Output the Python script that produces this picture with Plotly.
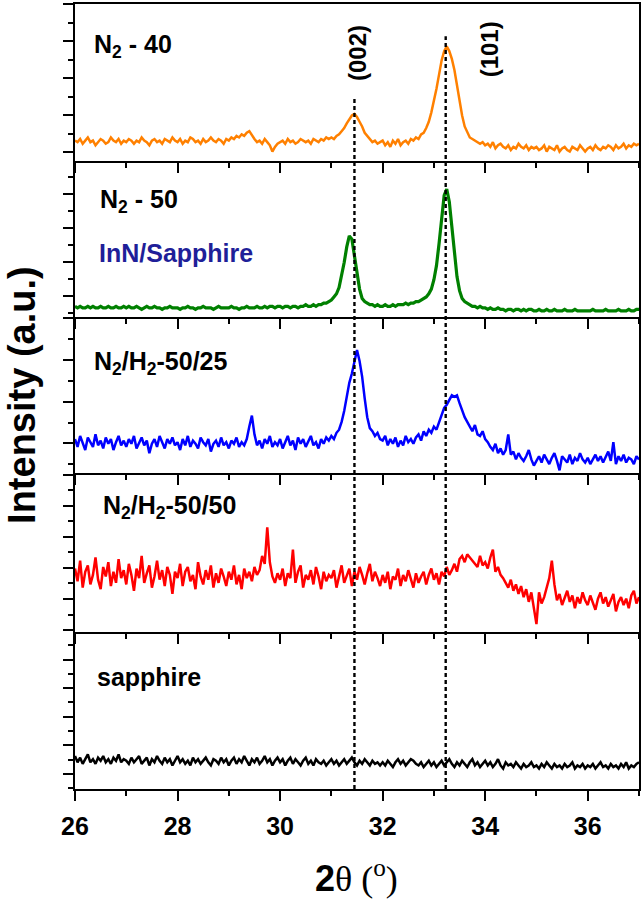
import numpy as np
import plotly.graph_objects as go

# 2-theta sampling grid (degrees)
two_theta = np.round(np.arange(26.0, 37.0001, 0.05), 2)

# Intensities (arbitrary units, each panel on its own 0-100 scale)
n2_40 = [
    13,12,14,11,13,15,12,13,10,12,14,13,11,12,15,13,12,14,11,13,
    12,14,13,11,13,12,15,13,12,10,13,14,12,13,11,14,13,12,15,13,
    12,14,11,13,12,15,14,12,13,11,14,12,13,15,13,12,14,13,11,14,
    13,15,14,16,15,17,16,18,19,16,14,12,13,11,14,12,10,6,9,11,
    12,13,11,14,12,13,11,12,14,13,12,13,11,14,13,12,14,13,15,14,
    15,14,16,17,19,21,24,27,29,30,28,25,22,18,16,14,12,13,11,12,
    13,10,12,9,13,11,14,10,12,13,11,14,13,15,14,17,18,21,25,31,
    38,46,55,64,70,73,70,65,58,48,38,29,22,18,15,14,13,12,11,12,
    10,11,9,12,8,10,11,9,8,10,7,9,8,11,9,8,10,7,9,8,
    9,7,8,10,6,9,8,7,10,6,8,9,7,6,9,8,7,10,8,6,
    8,9,7,10,8,7,9,8,10,9,7,10,8,9,11,8,10,9,11,10,
    11]

n2_50 = [
    7,6,7,6,6,7,6,7,6,6,7,6,6,7,6,6,7,6,6,7,
    6,7,6,6,7,6,5,6,7,6,6,7,6,6,5,6,6,7,6,6,
    6,5,6,6,7,6,6,5,6,6,7,6,6,6,5,6,7,6,6,6,
    6,7,6,6,5,6,6,7,6,6,6,7,6,6,7,6,7,7,6,7,
    7,6,7,7,6,7,7,6,7,7,8,7,7,8,7,8,8,9,9,10,
    11,13,15,19,26,35,45,52,50,40,28,18,12,10,9,8,8,7,8,7,
    7,8,7,7,8,7,8,8,8,9,8,9,9,10,10,11,12,13,15,18,
    24,33,47,64,78,82,74,58,40,26,17,12,10,9,8,7,7,6,7,6,
    6,5,6,5,5,6,5,5,4,5,5,4,5,5,4,5,4,5,5,4,
    4,5,4,4,5,4,4,5,4,4,4,5,4,4,4,5,4,4,4,4,
    4,4,5,4,4,4,4,5,4,4,4,4,5,4,4,4,5,4,4,5,
    5]

n2h2_50_25 = [
    22,17,24,19,15,23,20,17,25,18,21,16,23,19,22,15,20,24,18,21,
    17,22,19,24,16,20,23,18,21,13,19,22,17,24,20,16,22,19,23,18,
    20,15,22,18,24,17,21,19,16,23,20,18,22,14,19,21,17,23,18,20,
    16,21,19,23,17,20,18,22,30,37,25,18,21,16,22,19,24,17,20,18,
    22,16,20,24,18,21,15,23,19,22,17,21,24,18,20,16,22,19,23,21,
    24,22,26,28,33,40,50,58,64,72,79,72,62,48,36,29,27,24,26,22,
    21,24,18,22,19,23,17,21,18,24,20,22,19,23,25,21,27,24,28,26,
    30,28,33,38,42,44,47,50,49,50,45,40,36,33,30,27,31,25,24,27,
    22,20,17,15,19,13,16,12,15,25,12,14,9,13,10,8,11,15,9,5,
    8,11,7,12,9,6,10,13,8,2,11,9,7,12,6,10,8,13,9,7,
    10,6,9,12,8,11,7,10,14,8,20,6,11,8,12,7,10,9,6,11,
    9]

n2h2_50_50 = [
    40,32,45,28,38,42,30,36,47,33,27,41,35,44,29,38,31,46,34,39,
    30,43,36,26,40,34,48,31,37,42,28,35,45,33,39,29,41,36,24,38,
    34,43,29,38,41,32,36,27,44,35,30,39,33,42,28,37,31,40,35,29,
    38,33,42,30,36,27,40,34,38,32,41,36,39,48,43,66,44,35,31,37,
    33,40,29,37,34,52,31,38,42,28,36,33,39,30,41,35,27,38,32,36,
    34,39,28,36,42,31,35,40,29,38,33,41,36,30,37,43,32,38,34,29,
    36,31,38,27,35,33,40,29,36,32,39,34,28,37,31,35,38,30,36,40,
    33,37,30,38,35,41,36,39,43,38,46,48,44,49,47,45,43,41,48,42,
    44,40,47,52,38,41,36,34,31,28,33,26,30,24,29,22,27,19,25,14,
    5,25,18,22,28,34,45,30,20,24,17,21,26,19,23,15,22,18,25,20,
    17,23,19,14,21,25,18,22,16,20,24,13,19,22,17,21,15,23,26,18,
    22]

sapphire = [
    21,17,20,16,19,22,17,19,16,20,18,21,17,19,16,20,18,22,17,19,
    18,16,20,17,19,21,16,18,20,15,19,17,21,18,16,20,17,19,15,18,
    21,17,19,16,18,15,20,17,19,16,18,20,17,15,19,18,16,20,17,19,
    15,18,20,16,19,17,21,18,15,19,17,20,16,18,21,17,19,15,18,20,
    17,19,15,18,20,16,19,17,15,18,20,16,18,15,19,17,16,18,15,17,
    19,16,18,15,17,19,16,18,20,17,15,18,16,19,17,15,18,16,17,15,
    17,15,18,16,14,17,19,16,18,15,17,19,18,16,15,17,14,16,18,15,
    17,14,16,18,15,17,19,16,14,17,15,18,16,14,17,19,15,17,14,16,
    18,15,17,14,16,19,15,13,17,15,16,14,17,15,13,16,14,15,17,14,
    15,13,16,14,17,15,13,16,14,15,13,16,14,15,17,13,15,14,16,13,
    15,14,16,13,15,17,14,15,13,16,14,15,13,16,14,17,13,15,14,16,
    17]

series = [n2_40, n2_50, n2h2_50_25, n2h2_50_50, sapphire]
colors = ["#ff8000", "#008000", "#0000ff", "#ff0000", "#000000"]
widths = [2.5, 3.2, 2.5, 2.5, 2.5]
panel_labels = ["N<sub>2</sub> - 40", "N<sub>2</sub> - 50", "N<sub>2</sub>/H<sub>2</sub>-50/25",
                "N<sub>2</sub>/H<sub>2</sub>-50/50", "sapphire"]
peak_positions = [31.45, 33.23]
peak_labels = ["(002)", "(101)"]
x_ticks = [26, 28, 30, 32, 34, 36]

domains = [[0.800, 1.0], [0.601, 0.800], [0.402, 0.601], [0.200, 0.402], [0.0, 0.200]]
ytick0 = [5.7, 13.7, 19.2, 20.8, 9.6]
ydtick = [23.5, 21.7, 26.8, 19.6, 18.2]

FONT = "Liberation Sans, Arial, sans-serif"
fig = go.Figure()
layout = dict(width=643, height=911, margin=dict(l=75, r=2, t=3, b=122),
              paper_bgcolor="white", plot_bgcolor="white", showlegend=False)

for i, (vals, col, w) in enumerate(zip(series, colors, widths)):
    k = "" if i == 0 else str(i + 1)
    fig.add_trace(go.Scatter(x=two_theta, y=vals, mode="lines",
                             line=dict(color=col, width=w),
                             xaxis="x" + k, yaxis="y" + k))
    last = (i == 4)
    layout["xaxis" + k] = dict(
        domain=[0, 1], anchor="y" + k, range=[26, 37],
        showline=True, linecolor="black", linewidth=2, mirror=(i == 0),
        ticks="outside", ticklen=10, tickwidth=2, tickcolor="black",
        tickvals=x_ticks, showticklabels=last, ticklabelstandoff=4,
        tickfont=dict(family=FONT, size=25, color="black", weight="bold"),
        minor=dict(ticks="outside", ticklen=5, tickwidth=2, tickcolor="black", dtick=1, tick0=26),
        showgrid=False, zeroline=False)
    layout["yaxis" + k] = dict(
        domain=domains[i], anchor="x" + k, range=[0, 100],
        showline=True, linecolor="black", linewidth=2, mirror=True,
        ticks="outside", ticklen=10, tickwidth=2, tickcolor="black",
        tick0=ytick0[i], dtick=ydtick[i], showticklabels=False,
        minor=dict(ticks="outside", ticklen=5, tickwidth=2, tickcolor="black",
                   tick0=ytick0[i] - ydtick[i] / 2, dtick=ydtick[i]),
        showgrid=False, zeroline=False)

fig.update_layout(**layout)

# Dashed reference lines for the InN peaks
tops = [0.880, 0.959]
for pos, top in zip(peak_positions, tops):
    fig.add_shape(type="line", xref="x5", yref="paper", x0=pos, x1=pos, y0=0, y1=top,
                  line=dict(color="black", width=2.4, dash="4px,3px"), layer="above")

# Peak labels
label_x = [31.51, 34.09]
label_y = [0.937, 0.942]
for txt, lx, ly in zip(peak_labels, label_x, label_y):
    fig.add_annotation(text="<b>" + txt + "</b>", x=lx, y=ly, xref="x", yref="paper",
                       textangle=-90, showarrow=False, xanchor="center", yanchor="middle",
                       font=dict(family=FONT, size=24, color="black"))

# Panel labels
label_pos_y = [0.946, 0.749, 0.543, 0.359, 0.1425]
label_pos_x = [0.031, 0.040, 0.031, 0.046, 0.035]
for txt, lx, ly in zip(panel_labels, label_pos_x, label_pos_y):
    fig.add_annotation(text="<b>" + txt + "</b>", x=lx, y=ly, xref="paper", yref="paper",
                       showarrow=False, xanchor="left", yanchor="middle",
                       font=dict(family=FONT, size=25, color="black"))
fig.add_annotation(text="<b>InN/Sapphire</b>", x=0.039, y=0.683, xref="paper", yref="paper",
                   showarrow=False, xanchor="left", yanchor="middle",
                   font=dict(family=FONT, size=25, color="#1f1f99"))

# Axis titles
fig.add_annotation(text="<b>Intensity (a.u.)</b>", x=-0.094, y=0.502, xref="paper", yref="paper",
                   textangle=-90, showarrow=False, xanchor="center", yanchor="middle",
                   font=dict(family=FONT, size=38, color="black"))
fig.add_annotation(
    text="<b>2</b><span style='font-family:Liberation Serif'>θ (<sup>o</sup>)</span>",
    x=0.499, y=-0.112, xref="paper", yref="paper", showarrow=False,
    xanchor="center", yanchor="middle",
    font=dict(family=FONT, size=36, color="black"))

fig.write_html("out.html", config={"displayModeBar": False},
               post_script="document.body.style.margin='0';document.body.style.overflow='hidden';")
